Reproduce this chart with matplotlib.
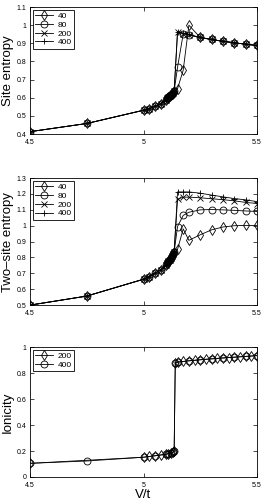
import matplotlib
matplotlib.use("Agg")
import matplotlib.pyplot as plt
from matplotlib.ticker import FuncFormatter

plt.rcParams['font.family'] = ['Liberation Sans', 'DejaVu Sans']

# V/t grid
x_lo = [4.5, 4.75, 5.0, 5.025, 5.05, 5.075, 5.1, 5.105, 5.11, 5.115, 5.12, 5.125, 5.13, 5.135]
x_hi = [5.15, 5.175, 5.2, 5.25, 5.3, 5.35, 5.4, 5.45, 5.5]

# site entropy (same below transition for all m)
site_lo = [0.413, 0.458, 0.531, 0.540, 0.553, 0.567, 0.590, 0.596, 0.602, 0.608, 0.614, 0.621, 0.628, 0.636]
site_40 = [0.650, 0.752, 1.000, 0.932, 0.921, 0.911, 0.903, 0.895, 0.888]
site_80 = [0.768, 0.952, 0.945, 0.932, 0.921, 0.911, 0.903, 0.895, 0.888]
site_200 = [0.962, 0.954, 0.947, 0.932, 0.921, 0.911, 0.903, 0.895, 0.888]
site_400 = [0.965, 0.956, 0.949, 0.932, 0.921, 0.911, 0.903, 0.895, 0.888]

# two-site entropy
two_lo = [0.500, 0.557, 0.663, 0.680, 0.700, 0.722, 0.755, 0.765, 0.776, 0.787, 0.798, 0.810, 0.822, 0.834]
two_40 = [0.851, 0.980, 0.908, 0.943, 0.974, 0.992, 1.000, 1.002, 1.002]
two_80 = [0.995, 1.065, 1.085, 1.100, 1.102, 1.100, 1.097, 1.093, 1.090]
two_200 = [1.167, 1.180, 1.180, 1.176, 1.170, 1.164, 1.157, 1.147, 1.140]
two_400 = [1.213, 1.213, 1.213, 1.205, 1.193, 1.182, 1.171, 1.163, 1.152]

# ionicity
ion_x200 = [4.5, 5.0, 5.025, 5.05, 5.075, 5.1, 5.11, 5.12, 5.13, 5.135,
            5.14, 5.15, 5.175, 5.2, 5.225, 5.25, 5.275, 5.3, 5.325, 5.35, 5.375, 5.4, 5.425, 5.45, 5.475, 5.5]
ion_200 = [0.105, 0.152, 0.158, 0.163, 0.169, 0.175, 0.180, 0.186, 0.192, 0.198,
           0.882, 0.885, 0.890, 0.895, 0.899, 0.903, 0.907, 0.910, 0.914, 0.917, 0.920, 0.923, 0.926, 0.929, 0.932, 0.935]
ion_x400 = [4.5, 4.75, 5.0, 5.05, 5.1, 5.11, 5.12, 5.13, 5.135,
            5.14, 5.15, 5.2, 5.25, 5.3, 5.35, 5.4, 5.45, 5.5]
ion_400 = [0.105, 0.123, 0.152, 0.163, 0.175, 0.180, 0.186, 0.192, 0.198,
           0.882, 0.885, 0.895, 0.903, 0.910, 0.917, 0.923, 0.929, 0.935]

styles = {'40': 'd', '80': 'o', '200': 'x', '400': '+'}

fig = plt.figure(figsize=(2.66, 5.01), dpi=100)
ax1 = fig.add_axes([0.113, 0.7325, 0.853, 0.2535])
ax2 = fig.add_axes([0.113, 0.391, 0.853, 0.2535])
ax3 = fig.add_axes([0.113, 0.048, 0.853, 0.259])

def mplot(ax, x, y, m, lab):
    ax.plot(x, y, color='k', lw=0.6, marker=m, ms=5, mfc='none', mec='k', mew=0.6, label=lab)

for lab, hi in zip(['40', '80', '200', '400'], [site_40, site_80, site_200, site_400]):
    mplot(ax1, x_lo + x_hi, site_lo + hi, styles[lab], lab)
for lab, hi in zip(['40', '80', '200', '400'], [two_40, two_80, two_200, two_400]):
    mplot(ax2, x_lo + x_hi, two_lo + hi, styles[lab], lab)
mplot(ax3, ion_x200, ion_200, 'd', '200')
mplot(ax3, ion_x400, ion_400, 'o', '400')

fmt = FuncFormatter(lambda v, p: ('%g' % round(v, 3)))
for ax, yl, lim, yt in [(ax1, 'Site entropy', (0.4, 1.1), [0.4, 0.5, 0.6, 0.7, 0.8, 0.9, 1.0, 1.1]),
                        (ax2, 'Two\u2013site entropy', (0.5, 1.3), [0.5, 0.6, 0.7, 0.8, 0.9, 1.0, 1.1, 1.2, 1.3]),
                        (ax3, 'Ionicity', (0, 1), [0, 0.2, 0.4, 0.6, 0.8, 1.0])]:
    ax.set_xlim(4.5, 5.5)
    ax.set_ylim(*lim)
    ax.set_xticks([4.5, 5, 5.5])
    ax.set_yticks(yt)
    ax.xaxis.set_major_formatter(fmt)
    ax.yaxis.set_major_formatter(fmt)
    ax.tick_params(direction='in', top=True, right=True, labelsize=5, length=3, width=0.5)
    ax.tick_params(axis='x', pad=3.5)
    ax.tick_params(axis='y', pad=2.5)
    for s in ax.spines.values():
        s.set_linewidth(0.6)
    ax.set_ylabel(yl, fontsize=9.5, labelpad=2)
    leg = ax.legend(loc='upper left', fontsize=6, handlelength=2.2, borderaxespad=0.3,
                    fancybox=False, framealpha=1, edgecolor='k', borderpad=0.3,
                    labelspacing=0.12, handletextpad=0.5)
    leg.get_frame().set_linewidth(0.6)

ax3.set_xlabel('V/t', fontsize=9.5, labelpad=0)

fig.savefig('out.png', dpi=100)
